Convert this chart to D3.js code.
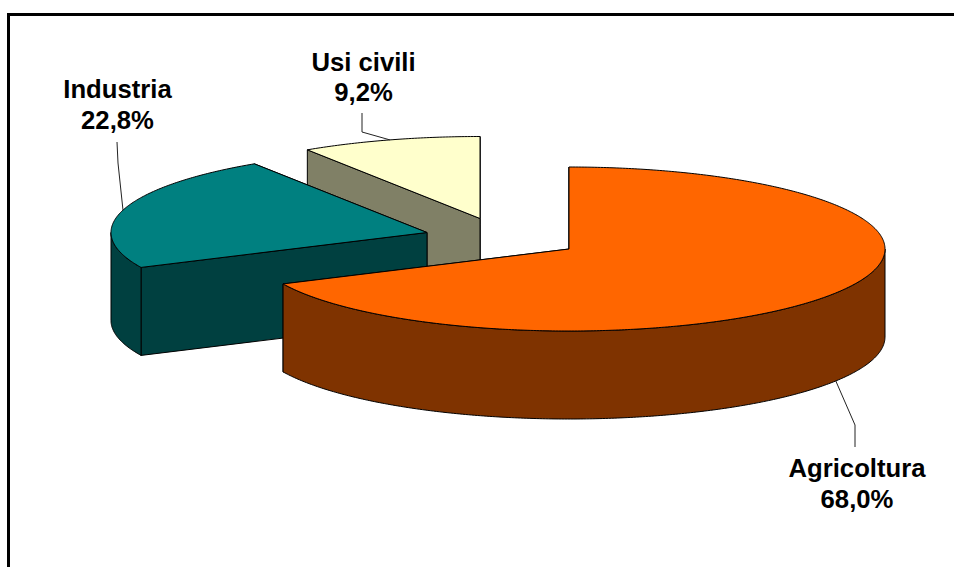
<!DOCTYPE html>
<html>
<head>
<meta charset="utf-8">
<script src="https://cdn.jsdelivr.net/npm/d3@7"></script>
<style>
html,body{margin:0;padding:0;background:#fff;overflow:hidden}
text{font-family:"Liberation Sans",Arial,sans-serif;font-weight:bold;font-size:25.7px;fill:#000;text-anchor:middle}
</style>
</head>
<body>
<svg id="c" width="954" height="567"></svg>
<script>
// Data
const categories = ["Agricoltura", "Industria", "Usi civili"];
const shares = [68.0, 22.8, 9.2];
const shareLabels = ["68,0%", "22,8%", "9,2%"];

// Styles and layout
const topColors = ["#FF6600", "#008080", "#FFFFCC"];
const wallColors = ["#7F3300", "#004040", "#808066"];
const centers = [[569, 249], [427, 232.5], [480, 218.5]];
const RX = 316, RY = 82, DEPTH = 88;
const labelPos = [[857, 477], [117.5, 98], [363.5, 70.5]];
const leaderElbows = [[[855, 425], [855, 447]], [[118, 163], [117, 142]], [[362, 132], [362, 113]]];
const leaderOnWall = [true, false, false];
const LINE_GAP = 30.5;

const svg = d3.select("#c");

// Frame: left and top edges only, as cropped in the reference
svg.append("path")
  .attr("d", d3.line()([[8.5, 567], [8.5, 14.5], [954, 14.5]]))
  .attr("fill", "none").attr("stroke", "#000").attr("stroke-width", 3);

const arcs = d3.pie().sort(null).startAngle(0).endAngle(2 * Math.PI)(shares);
const lineGen = d3.line();

function projector(i) {
  const [cx, cy] = centers[i];
  const x = d3.scaleLinear().domain([-1, 1]).range([cx - RX, cx + RX]);
  const y = d3.scaleLinear().domain([-1, 1]).range([cy - RY, cy + RY]);
  return (a, drop = 0) => [x(Math.sin(a)), y(-Math.cos(a)) + drop];
}
function samples(a0, a1) {
  const n = Math.max(2, Math.ceil((a1 - a0) / 0.01));
  return d3.range(n + 1).map(k => a0 + (a1 - a0) * k / n);
}

const order = [2, 1, 0]; // back to front
const g = svg.append("g");
order.forEach(i => {
  const arc = arcs[i], P = projector(i), c = centers[i];
  const face = (pts, fill) => g.append("path")
    .attr("d", lineGen(pts) + "Z")
    .attr("fill", fill).attr("stroke", "#000").attr("stroke-width", 1).attr("stroke-linejoin", "round");
  // radial walls
  [arc.endAngle, arc.startAngle].forEach(a => {
    face([c, P(a), P(a, DEPTH), [c[0], c[1] + DEPTH]], wallColors[i]);
  });
  // outer wall: the part of the rim facing the viewer
  const lo = Math.max(arc.startAngle, Math.PI / 2), hi = Math.min(arc.endAngle, 3 * Math.PI / 2);
  if (hi > lo) {
    const s = samples(lo, hi);
    face(s.map(a => P(a)).concat(s.slice().reverse().map(a => P(a, DEPTH))), wallColors[i]);
  }
  // top
  face([c].concat(samples(arc.startAngle, arc.endAngle).map(a => P(a))), topColors[i]);
});

// Leaders and labels
arcs.forEach((arc, i) => {
  const mid = (arc.startAngle + arc.endAngle) / 2;
  const anchor = projector(i)(mid, leaderOnWall[i] ? DEPTH : 0);
  svg.append("path")
    .attr("d", lineGen([anchor].concat(leaderElbows[i])))
    .attr("fill", "none").attr("stroke", "#222").attr("stroke-width", 1);
  const t = svg.append("text").attr("x", labelPos[i][0]).attr("y", labelPos[i][1]);
  t.append("tspan").attr("x", labelPos[i][0]).text(categories[i]);
  t.append("tspan").attr("x", labelPos[i][0]).attr("dy", LINE_GAP).text(shareLabels[i]);
});
</script>
</body>
</html>
